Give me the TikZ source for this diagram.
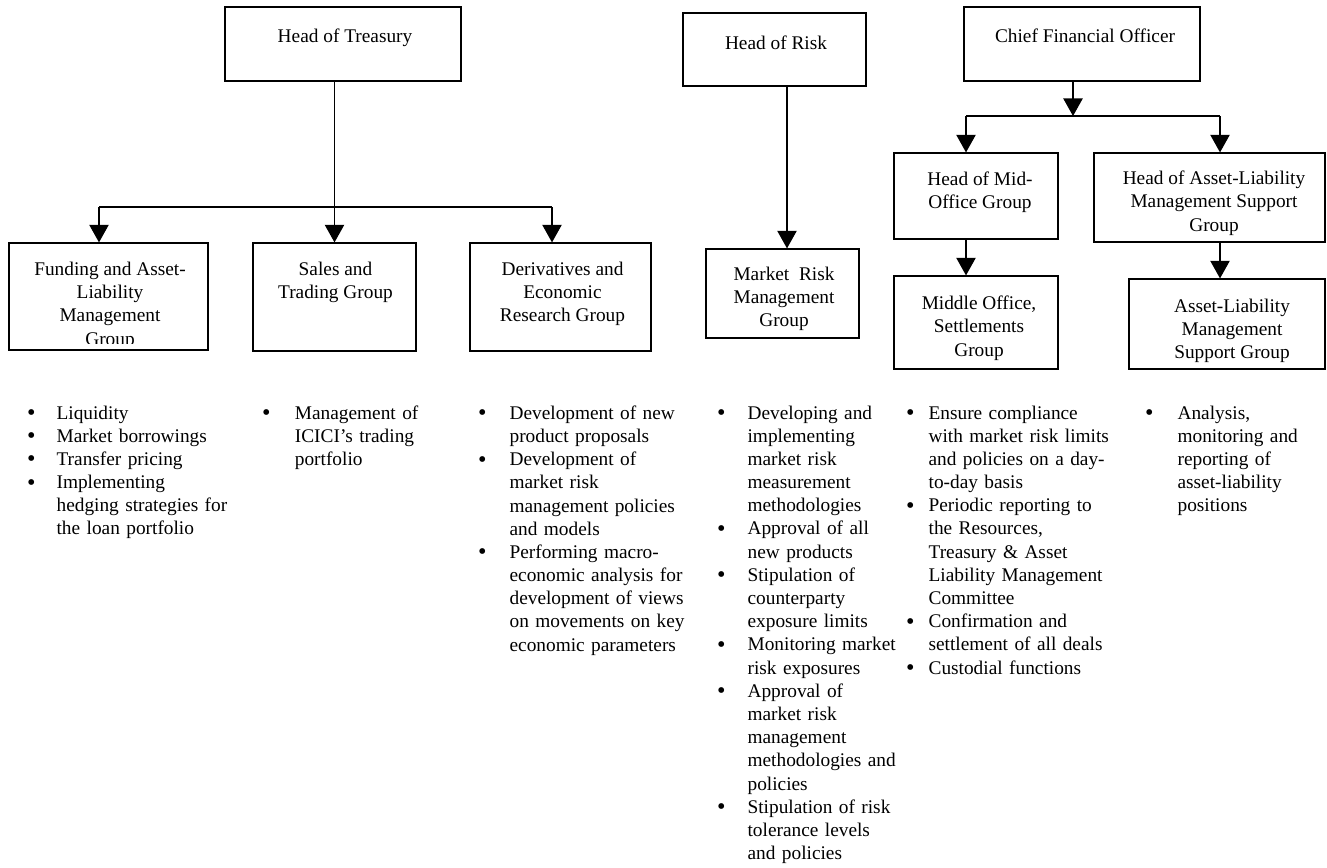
\documentclass[tikz,border=0pt]{standalone}
\usepackage{fontspec}
\setmainfont{Liberation Serif}
\usepackage{graphicx}
\usepackage{tikz}
\usetikzlibrary{arrows.meta,fit}
\newlength{\bgap}
\newcommand{\lbul}{\makebox[\bgap][l]{\smash{\raisebox{-0.8pt}{\scalebox{1.25}{\textbullet}}}}}
\newcommand{\lcont}{\hspace*{\bgap}}

\begin{document}
\begin{tikzpicture}[x=0.02cm, y=-0.02cm, font=\fontsize{11}{13.2}\selectfont,
    line width=0.7pt, >={Triangle[length=10pt, width=11pt]},
    box/.style={draw, rectangle, inner sep=0pt},
    boxtext/.style={align=center, anchor=north, inner sep=0pt},
    lst/.style={text width=6cm, align=left, anchor=north west, inner sep=0pt,
      execute at begin node={\setlength{\bgap}{#1}}}]
    \useasboundingbox (0,0) rectangle (1327,867);
    % Heads: one pixel of the page is one unit, y runs down.
    \node[box, fit={(225,7) (461,81)}] (treas) {};
    \node[boxtext] (treas-t) at (345,28.5) {Head of Treasury};
    \node[box, fit={(683,13) (866,86)}] (risk) {};
    \node[boxtext] (risk-t) at (776,35.5) {Head of Risk};
    \node[box, fit={(964,7) (1200,81)}] (cfo) {};
    \node[boxtext] (cfo-t) at (1085,28.5) {Chief Financial Officer};
    % Treasury groups.
    \node[box, fit={(9,243) (208,350)}] (fund) {};
    \begin{scope}
      \clip (9,243) rectangle (208,343);
      \node[boxtext] (fund-t) at (110,261.5) {Funding and Asset-\\Liability\\Management\\Group};
    \end{scope}
    \node[box, fit={(253,243) (416,351)}] (sales) {};
    \node[boxtext] (sales-t) at (335.5,261.5) {Sales and\\Trading Group};
    \node[box, fit={(470,243) (651,351)}] (deriv) {};
    \node[boxtext] (deriv-t) at (562.5,261.5) {Derivatives and\\Economic\\Research Group};
    % Risk group.
    \node[box, fit={(706,249) (859,338)}] (mr) {};
    \node[boxtext] (mr-t) at (784,266.5) {Market\ \ Risk\\Management\\Group};
    % Groups under the CFO.
    \node[box, fit={(894,153) (1058,239)}] (mid) {};
    \node[boxtext] (mid-t) at (980,171.5) {Head of Mid-\\Office Group};
    \node[box, fit={(1094,153) (1325,242)}] (halm) {};
    \node[boxtext] (halm-t) at (1214,170.5) {Head of Asset-Liability\\Management Support\\Group};
    \node[box, fit={(894,276) (1058,369)}] (mo) {};
    \node[boxtext] (mo-t) at (979,295.5) {Middle Office,\\Settlements\\Group};
    \node[box, fit={(1129,279) (1325,369)}] (alm) {};
    \node[boxtext] (alm-t) at (1232,298.5) {Asset-Liability\\Management\\Support Group};
    % Connectors.
    \coordinate (tl) at (99,207);
    \coordinate (tr) at (552,207);
    \draw (tl) -- (tr);
    \draw[->] (treas.south -| sales.north) -- (sales.north);
    \draw[->] (tl) -- (tl |- fund.north);
    \draw[->] (tr) -- (tr |- deriv.north);
    \coordinate (rk) at (787,150);
    \draw[->] (risk.south -| rk) -- (rk |- mr.north);
    \coordinate (cs) at (1073,116);
    \coordinate (cl) at (966,116);
    \coordinate (cr) at (1220,116);
    \draw[->] (cfo.south -| cs) -- (cs);
    \draw (cl) -- (cr);
    \draw[->] (cl) -- (cl |- mid.north);
    \draw[->] (cr) -- (cr |- halm.north);
    \draw[->] (cl |- mid.south) -- (cl |- mo.north);
    \draw[->] (cr |- halm.south) -- (cr |- alm.north);
    % Duties of each group.
    \node[lst=0.59cm] (fund-l) at (26.5,405) {\lbul Liquidity\\
      \lbul Market borrowings\\
      \lbul Transfer pricing\\
      \lbul Implementing\\
      \lcont hedging strategies for\\
      \lcont the loan portfolio};
    \node[lst=0.656cm] (sales-l) at (261.5,405) {\lbul Management of\\
      \lcont ICICI's trading\\
      \lcont portfolio};
    \node[lst=0.63cm] (deriv-l) at (477.5,405) {\lbul Development of new\\
      \lcont product proposals\\
      \lbul Development of\\
      \lcont market risk\\
      \lcont management policies\\
      \lcont and models\\
      \lbul Performing macro-\\
      \lcont economic analysis for\\
      \lcont development of views\\
      \lcont on movements on key\\
      \lcont economic parameters};
    \node[lst=0.61cm] (mr-l) at (716.5,405) {\lbul Developing and\\
      \lcont implementing\\
      \lcont market risk\\
      \lcont measurement\\
      \lcont methodologies\\
      \lbul Approval of all\\
      \lcont new products\\
      \lbul Stipulation of\\
      \lcont counterparty\\
      \lcont exposure limits\\
      \lbul Monitoring market\\
      \lcont risk exposures\\
      \lbul Approval of\\
      \lcont market risk\\
      \lcont management\\
      \lcont methodologies and\\
      \lcont policies\\
      \lbul Stipulation of risk\\
      \lcont tolerance levels\\
      \lcont and policies};
    \node[lst=0.45cm] (mo-l) at (905.5,405) {\lbul Ensure compliance\\
      \lcont with market risk limits\\
      \lcont and policies on a day-\\
      \lcont to-day basis\\
      \lbul Periodic reporting to\\
      \lcont the Resources,\\
      \lcont Treasury \& Asset\\
      \lcont Liability Management\\
      \lcont Committee\\
      \lbul Confirmation and\\
      \lcont settlement of all deals\\
      \lbul Custodial functions};
    \node[lst=0.65cm] (alm-l) at (1144.5,405) {\lbul Analysis,\\
      \lcont monitoring and\\
      \lcont reporting of\\
      \lcont asset-liability\\
      \lcont positions};
  \end{tikzpicture}
\end{document}
